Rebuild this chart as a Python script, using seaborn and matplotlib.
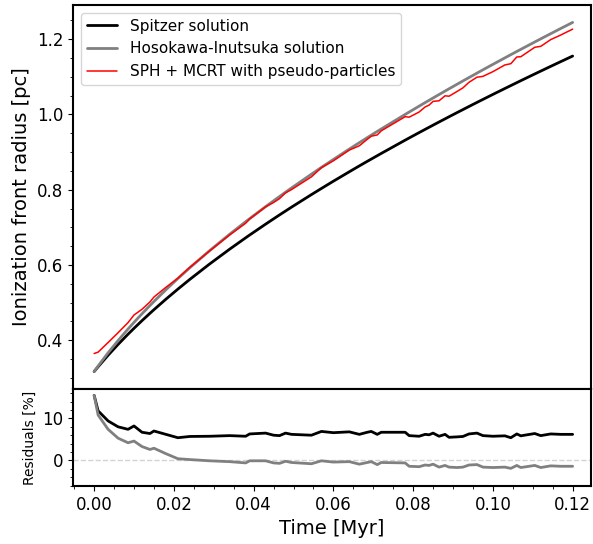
import numpy as np
import pandas as pd
import matplotlib
matplotlib.use("Agg")
import matplotlib.pyplot as plt
import seaborn as sns
from matplotlib.ticker import MultipleLocator, FormatStrFormatter

# ===== data =====
time_myr = [0.000, 0.001, 0.0035, 0.006, 0.0085, 0.010, 0.012, 0.014, 0.015, 0.018,
            0.021, 0.024, 0.029, 0.034, 0.038, 0.039, 0.043, 0.045, 0.0465, 0.048,
            0.0495, 0.0545, 0.057, 0.060, 0.064, 0.0665, 0.0685, 0.0695, 0.071, 0.072,
            0.078, 0.079, 0.0815, 0.083, 0.084, 0.085, 0.0865, 0.088, 0.089, 0.091,
            0.0925, 0.094, 0.096, 0.0975, 0.100, 0.103, 0.1045, 0.106, 0.107, 0.1105,
            0.112, 0.1145, 0.117, 0.120]

spitzer_r = [0.3165, 0.3293, 0.3599, 0.3886, 0.4158, 0.4315, 0.4518, 0.4714, 0.4810, 0.5089,
             0.5357, 0.5616, 0.6028, 0.6420, 0.6721, 0.6795, 0.7084, 0.7225, 0.7330, 0.7433,
             0.7536, 0.7870, 0.8033, 0.8226, 0.8477, 0.8632, 0.8754, 0.8814, 0.8904, 0.8964,
             0.9317, 0.9375, 0.9518, 0.9603, 0.9660, 0.9716, 0.9800, 0.9883, 0.9939, 1.0049,
             1.0130, 1.0212, 1.0320, 1.0400, 1.0533, 1.0690, 1.0768, 1.0846, 1.0898, 1.1077,
             1.1153, 1.1279, 1.1404, 1.1553]

hosokawa_r = [0.3165, 0.3313, 0.3663, 0.3989, 0.4296, 0.4473, 0.4701, 0.4921, 0.5028, 0.5340,
              0.5639, 0.5926, 0.6383, 0.6816, 0.7149, 0.7230, 0.7549, 0.7704, 0.7819, 0.7933,
              0.8046, 0.8413, 0.8593, 0.8804, 0.9080, 0.9250, 0.9384, 0.9450, 0.9549, 0.9614,
              1.0001, 1.0064, 1.0221, 1.0315, 1.0377, 1.0438, 1.0530, 1.0622, 1.0682, 1.0802,
              1.0892, 1.0981, 1.1099, 1.1187, 1.1332, 1.1504, 1.1590, 1.1675, 1.1731, 1.1927,
              1.2010, 1.2148, 1.2285, 1.2447]

sph_r = [0.3645, 0.3682, 0.3937, 0.4197, 0.4466, 0.4669, 0.4820, 0.5016, 0.5146, 0.5405,
         0.5647, 0.5936, 0.6375, 0.6799, 0.7108, 0.7223, 0.7545, 0.7659, 0.7763, 0.7917,
         0.8003, 0.8342, 0.8587, 0.8768, 0.9054, 0.9167, 0.9340, 0.9422, 0.9456, 0.9565,
         0.9941, 0.9928, 1.0065, 1.0199, 1.0249, 1.0348, 1.0364, 1.0496, 1.0485, 1.0611,
         1.0708, 1.0855, 1.0990, 1.1013, 1.1138, 1.1316, 1.1350, 1.1529, 1.1535, 1.1786,
         1.1811, 1.1990, 1.2111, 1.2269]

# residuals [%] of the SPH run w.r.t. each analytic solution
resid_spitzer = [15.5, 11.8, 9.4, 8.0, 7.4, 8.2, 6.7, 6.4, 7.0, 6.2,
                 5.4, 5.7, 5.75, 5.9, 5.75, 6.3, 6.5, 6.0, 5.9, 6.5,
                 6.2, 6.0, 6.9, 6.6, 6.8, 6.2, 6.7, 6.9, 6.2, 6.7,
                 6.7, 5.9, 5.75, 6.2, 6.1, 6.5, 5.75, 6.2, 5.5, 5.6,
                 5.7, 6.3, 6.5, 5.9, 5.75, 5.85, 5.4, 6.3, 5.85, 6.4,
                 5.9, 6.3, 6.2, 6.2]

resid_hosokawa = [15.5, 10.8, 7.4, 5.3, 4.2, 4.6, 3.3, 2.6, 2.9, 1.6,
                  0.4, 0.2, -0.1, -0.3, -0.6, -0.1, -0.1, -0.6, -0.7, -0.2,
                  -0.5, -0.8, -0.1, -0.4, -0.3, -0.9, -0.5, -0.3, -1.0, -0.5,
                  -0.6, -1.4, -1.5, -1.1, -1.2, -0.9, -1.6, -1.2, -1.6, -1.7,
                  -1.6, -1.1, -1.0, -1.6, -1.7, -1.6, -1.9, -1.2, -1.7, -1.2,
                  -1.7, -1.3, -1.4, -1.4]

df = pd.DataFrame({"t": time_myr, "spitzer": spitzer_r, "hosokawa": hosokawa_r,
                   "sph": sph_r, "res_sp": resid_spitzer, "res_hi": resid_hosokawa})

# ===== style =====
sns.set_style("ticks")
plt.rcParams['font.family'] = ['DejaVu Sans']
plt.rcParams['axes.linewidth'] = 1.5
plt.rcParams['axes.edgecolor'] = 'black'
plt.rcParams['text.color'] = 'black'
plt.rcParams['axes.labelcolor'] = 'black'
plt.rcParams['xtick.color'] = 'black'
plt.rcParams['ytick.color'] = 'black'
plt.rcParams['xtick.direction'] = 'out'
plt.rcParams['ytick.direction'] = 'out'

fig = plt.figure(figsize=(5.93, 5.44), dpi=100)
ax = fig.add_axes([0.1231, 0.2849, 0.8735, 0.7059])
axr = fig.add_axes([0.1231, 0.1066, 0.8735, 0.1783], sharex=ax)

# ===== top panel =====
sns.lineplot(data=df, x="t", y="spitzer", ax=ax, color="black", lw=2,
             label="Spitzer solution", estimator=None, sort=False)
sns.lineplot(data=df, x="t", y="hosokawa", ax=ax, color="gray", lw=2,
             label="Hosokawa-Inutsuka solution", estimator=None, sort=False)
sns.lineplot(data=df, x="t", y="sph", ax=ax, color="red", lw=1.1,
             label="SPH + MCRT with pseudo-particles", estimator=None, sort=False)

ax.set_ylabel("Ionization front radius [pc]", fontsize=14)
ax.set_xlabel("")
ax.set_ylim(0.2701, 1.291)
ax.yaxis.set_major_locator(MultipleLocator(0.2))
ax.yaxis.set_minor_locator(MultipleLocator(0.05))
ax.tick_params(axis='y', labelsize=12)
ax.tick_params(axis='x', which='both', bottom=False, labelbottom=False)
ax.legend(loc="upper left", fontsize=11)

# ===== residual panel =====
axr.axhline(0, color="lightgray", lw=1, ls="--", zorder=0)
sns.lineplot(data=df, x="t", y="res_sp", ax=axr, color="black", lw=2,
             estimator=None, sort=False)
sns.lineplot(data=df, x="t", y="res_hi", ax=axr, color="gray", lw=2,
             estimator=None, sort=False)
axr.set_ylim(-6.1, 17)
axr.set_xlim(-0.0053, 0.1246)
axr.yaxis.set_major_locator(MultipleLocator(10))
axr.yaxis.set_minor_locator(MultipleLocator(2))
axr.xaxis.set_major_locator(MultipleLocator(0.02))
axr.xaxis.set_minor_locator(MultipleLocator(0.005))
axr.xaxis.set_major_formatter(FormatStrFormatter('%.2f'))
axr.tick_params(labelsize=12)
axr.set_ylabel("Residuals [%]", fontsize=10)
axr.set_xlabel("Time [Myr]", fontsize=14)

fig.savefig("out.png", dpi=100)
